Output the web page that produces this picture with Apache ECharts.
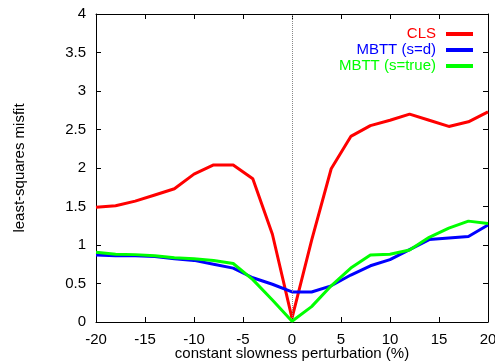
<!DOCTYPE html>
<html><head><meta charset="utf-8">
<script src="https://cdn.jsdelivr.net/npm/echarts@6/dist/echarts.min.js"></script>
<style>html,body{margin:0;padding:0;background:#fff}#c{width:495px;height:363px}</style>
</head><body><div id="c"></div>
<script>
const xValues = [-20,-18,-16,-14,-12,-10,-8,-6,-4,-2,0,2,4,6,8,10,12,14,16,18,20];
const clsValues = [1.49,1.51,1.57,1.65,1.73,1.92,2.04,2.04,1.86,1.14,0.05,1.06,1.99,2.41,2.55,2.62,2.70,2.62,2.54,2.60,2.73];
const mbttSdValues = [0.87,0.86,0.86,0.85,0.82,0.80,0.75,0.70,0.575,0.49,0.39,0.39,0.47,0.61,0.73,0.81,0.94,1.07,1.09,1.11,1.26];
const mbttTrueValues = [0.905,0.88,0.875,0.86,0.835,0.82,0.80,0.76,0.55,0.285,0.01,0.20,0.47,0.70,0.87,0.88,0.935,1.10,1.22,1.31,1.28];
const seriesNames = ['CLS','MBTT (s=d)','MBTT (s=true)'];
const seriesColors = ['#ff0000','#0000ff','#00ff00'];
const xTitle = 'constant slowness perturbation (%)';
const yTitle = 'least-squares misfit';

const allValues = [clsValues, mbttSdValues, mbttTrueValues];
const font = 'Liberation Sans, Arial, sans-serif';
const chart = echarts.init(document.getElementById('c'));
const series = allValues.map((vals, i) => ({
  name: seriesNames[i],
  type: 'line',
  data: xValues.map((x, j) => [x, vals[j]]),
  symbol: 'none',
  lineStyle: {color: seriesColors[i], width: 3},
  itemStyle: {color: seriesColors[i]},
  z: 3 + i,
  animation: false
}));
series[0].markLine = {
  silent: true, symbol: 'none', animation: false,
  label: {show: false},
  lineStyle: {color: '#888', type: [1, 1], width: 1},
  data: [{xAxis: 0}]
};
const tickCommon = {inside: true, length: 5, lineStyle: {color: '#000', width: 1}};
chart.setOption({
  animation: false,
  grid: {left: 96, right: 7, top: 14, bottom: 41, containLabel: false, outerBoundsMode: 'none'},
  legend: {
    orient: 'vertical', right: 22, top: 26, align: 'right', padding: 0,
    itemWidth: 27, itemHeight: 4, itemGap: 0,
    icon: 'rect',
    data: seriesNames.map((n, i) => ({name: n, textStyle: {color: seriesColors[i]}})),
    textStyle: {fontFamily: font, fontSize: 15, lineHeight: 16, padding: [0, 5, 0, 0]}
  },
  xAxis: [{
    type: 'value', min: -20, max: 20, interval: 5, position: 'bottom',
    name: xTitle, nameLocation: 'middle', nameGap: 24, nameMoveOverlap: false,
    nameTextStyle: {fontFamily: font, fontSize: 15, color: '#000'},
    axisLine: {show: true, onZero: false, lineStyle: {color: '#000', width: 1}},
    axisTick: tickCommon,
    axisLabel: {fontFamily: font, fontSize: 15, color: '#000', margin: 10},
    splitLine: {show: false}
  }, {
    type: 'value', min: -20, max: 20, interval: 5, position: 'top',
    axisLine: {show: true, onZero: false, lineStyle: {color: '#000', width: 1}},
    axisTick: tickCommon, axisLabel: {show: false}, splitLine: {show: false}
  }],
  yAxis: [{
    type: 'value', min: 0, max: 4, interval: 0.5, position: 'left',
    name: yTitle, nameLocation: 'middle', nameGap: 69, nameRotate: 90, nameMoveOverlap: false,
    nameTextStyle: {fontFamily: font, fontSize: 15, color: '#000'},
    axisLine: {show: true, onZero: false, lineStyle: {color: '#000', width: 1}},
    axisTick: tickCommon,
    axisLabel: {fontFamily: font, fontSize: 15, color: '#000', margin: 10},
    splitLine: {show: false}
  }, {
    type: 'value', min: 0, max: 4, interval: 0.5, position: 'right',
    axisLine: {show: true, onZero: false, lineStyle: {color: '#000', width: 1}},
    axisTick: tickCommon, axisLabel: {show: false}, splitLine: {show: false}
  }],
  series: series
});
</script></body></html>
